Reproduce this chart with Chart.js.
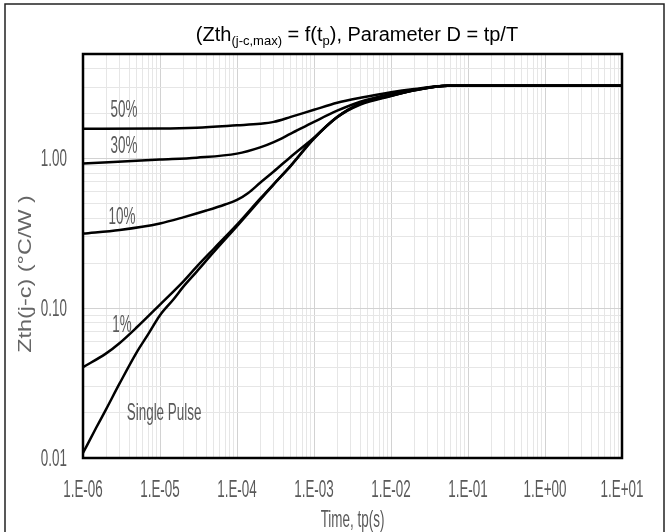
<!DOCTYPE html>
<html>
<head>
<meta charset="utf-8">
<script src="https://cdn.jsdelivr.net/npm/chart.js@4.4.1/dist/chart.umd.min.js"></script>
<style>
  html, body { margin: 0; padding: 0; background: #fff; }
  #wrap { width: 671px; height: 532px; }
</style>
</head>
<body>
<div id="wrap"><canvas id="zth"></canvas></div>
<script>
// [tp (s), Zth(j-c) (°C/W)]
const duty50 = [[1e-6, 1.585], [1e-5, 1.59], [3e-5, 1.61], [1e-4, 1.67], [2e-4, 1.71], [3e-4, 1.76], [5e-4, 1.9],
  [1e-3, 2.12], [2e-3, 2.36], [4e-3, 2.55], [1e-2, 2.78], [2e-2, 2.92], [5.4e-2, 3.07], [10, 3.07]];
const duty30 = [[1e-6, 0.926], [1e-5, 0.985], [3e-5, 1.015], [1e-4, 1.08], [2e-4, 1.19], [3e-4, 1.29], [5e-4, 1.47],
  [1e-3, 1.76], [2e-3, 2.09], [4e-3, 2.4], [1e-2, 2.7], [2e-2, 2.88], [5.4e-2, 3.07], [10, 3.07]];
const duty10 = [[1e-6, 0.316], [3e-6, 0.334], [1e-5, 0.369], [2e-5, 0.405], [4e-5, 0.45], [7e-5, 0.494],
  [1e-4, 0.53], [1.4e-4, 0.59], [2e-4, 0.69], [3e-4, 0.82], [5e-4, 1.03], [1e-3, 1.38], [2e-3, 1.9],
  [4e-3, 2.34], [1e-2, 2.64], [2e-2, 2.86], [5.4e-2, 3.07], [10, 3.07]];
const duty1 = [[1e-6, 0.0404], [2e-6, 0.05], [3e-6, 0.0587], [5e-6, 0.0747], [1e-5, 0.106], [2e-5, 0.151],
  [3e-5, 0.19], [5e-5, 0.25], [1e-4, 0.362], [2e-4, 0.54], [5e-4, 0.9], [1e-3, 1.37], [2e-3, 1.9],
  [4e-3, 2.32], [1e-2, 2.63], [2e-2, 2.86], [5.4e-2, 3.07], [10, 3.07]];
const singlePulse = [[1e-6, 0.0108], [1.5e-6, 0.0161], [2e-6, 0.0212], [3e-6, 0.0316], [5e-6, 0.051], [7e-6, 0.067],
  [1e-5, 0.09], [1.5e-5, 0.115], [2e-5, 0.139], [3e-5, 0.176], [5e-5, 0.238], [1e-4, 0.354], [2e-4, 0.531],
  [3e-4, 0.673], [5e-4, 0.895], [1e-3, 1.36], [2e-3, 1.89], [4e-3, 2.3], [1e-2, 2.62], [2e-2, 2.86],
  [5.4e-2, 3.07], [10, 3.07]];

const curveNames = ["50%", "30%", "10%", "1%", "Single Pulse"];
// where each name is written, in data units [tp, Zth]
const nameSpots = [[3.4e-6, 2.09], [3.4e-6, 1.2], [3.2e-6, 0.405], [3.2e-6, 0.077], [1.13e-5, 0.02]];

const xTickValues = [1e-6, 1e-5, 1e-4, 1e-3, 1e-2, 1e-1, 1, 10];
const xTickLabels = ["1.E-06", "1.E-05", "1.E-04", "1.E-03", "1.E-02", "1.E-01", "1.E+00", "1.E+01"];
const yTickValues = [0.01, 0.1, 1];
const yTickLabels = ["0.01", "0.10", "1.00"];
const xTitle = "Time, tp(s)";
const yTitle = "Zth(j-c) (\u00b0C/W )";
const xMin = 1e-6, xMax = 10, yMin = 0.01, yMax = 5;

const labelFont = '24px "Liberation Sans", Arial, sans-serif';
const textGrey = "#5a5a5a";
const squeeze = 0.56;   // the sheet's lettering is very condensed

function isDecade(v) {
    const l = Math.log10(v);
    return Math.abs(l - Math.round(l)) < 1e-9;
}

// 1..9 in every decade
function logTicks(min, max) {
    const out = [];
    for (let e = Math.floor(Math.log10(min)); e <= Math.ceil(Math.log10(max)); e++) {
        for (let m = 1; m <= 9; m++) {
            const v = Number((m * Math.pow(10, e)).toPrecision(6));
            if (v >= min * 0.999 && v <= max * 1.001) out.push(v);
        }
    }
    return out;
}

// condensed text, drawn at (x, y)
function narrowText(ctx, text, x, y, align, baseline) {
    ctx.save();
    ctx.translate(x, y);
    ctx.scale(squeeze, 1);
    ctx.textAlign = align;
    ctx.textBaseline = baseline;
    ctx.fillText(text, 0, 0);
    ctx.restore();
}

const gridColor = c => (c.tick && isDecade(c.tick.value)) ? "#d2d2d2" : "#e6e6e6";

const decorations = {
    id: "decorations",
    afterDraw(chart) {
        const ctx = chart.ctx;
        const area = chart.chartArea;
        const xs = chart.scales.x, ys = chart.scales.y;

        ctx.save();
        ctx.fillStyle = textGrey;
        ctx.font = labelFont;

        // tick labels
        xTickValues.forEach((v, i) => narrowText(ctx, xTickLabels[i], xs.getPixelForValue(v), area.bottom + 39, "center", "alphabetic"));
        yTickValues.forEach((v, i) => narrowText(ctx, yTickLabels[i], area.left - 16, ys.getPixelForValue(v) + 1, "right", "middle"));

        // axis titles
        narrowText(ctx, xTitle, (area.left + area.right) / 2, area.bottom + 69, "center", "alphabetic");
        ctx.save();
        ctx.fillStyle = "#666";
        ctx.translate(26, (area.top + area.bottom) / 2 + 18);
        ctx.rotate(-Math.PI / 2);
        ctx.scale(1.3, 1);
        ctx.font = '18px "Liberation Sans", Arial, sans-serif';
        ctx.textAlign = "center";
        ctx.textBaseline = "middle";
        ctx.fillText(yTitle, 0, 0);
        ctx.restore();

        // curve names
        curveNames.forEach((name, i) => {
            narrowText(ctx, name, xs.getPixelForValue(nameSpots[i][0]), ys.getPixelForValue(nameSpots[i][1]), "center", "middle");
        });
        ctx.restore();

        // plot frame
        ctx.save();
        ctx.strokeStyle = "#000";
        ctx.lineWidth = 2.5;
        ctx.strokeRect(area.left, area.top, area.right - area.left, area.bottom - area.top);
        ctx.restore();

        // outer box
        ctx.save();
        ctx.strokeStyle = "#222";
        ctx.lineWidth = 1.5;
        ctx.strokeRect(5, 4, 659, 560);
        ctx.restore();

        // title with subscripts
        const parts = [["(Zth", 20, 0], ["(j-c,max)", 13, 4], [" = f(t", 20, 0], ["p", 13, 4], ["), Parameter D = tp/T", 20, 0]];
        ctx.save();
        ctx.fillStyle = "#000";
        ctx.textBaseline = "alphabetic";
        let total = 0;
        parts.forEach(p => {
            ctx.font = p[1] + 'px "Liberation Sans", Arial, sans-serif';
            total += ctx.measureText(p[0]).width;
        });
        let x = 357 - total / 2;
        parts.forEach(p => {
            ctx.font = p[1] + 'px "Liberation Sans", Arial, sans-serif';
            ctx.fillText(p[0], x, 41 + p[2]);
            x += ctx.measureText(p[0]).width;
        });
        ctx.restore();
    }
};

const toXY = arr => arr.map(([t, z]) => ({ x: t, y: z }));
const lineStyle = {
    borderColor: "#000",
    borderWidth: 2.5,
    pointRadius: 0,
    fill: false,
    cubicInterpolationMode: "monotone"
};

new Chart(document.getElementById("zth"), {
    type: "line",
    data: {
        datasets: [
            { label: curveNames[0], data: toXY(duty50), ...lineStyle },
            { label: curveNames[1], data: toXY(duty30), ...lineStyle },
            { label: curveNames[2], data: toXY(duty10), ...lineStyle },
            { label: curveNames[3], data: toXY(duty1), ...lineStyle },
            { label: curveNames[4], data: toXY(singlePulse), ...lineStyle }
        ]
    },
    options: {
        responsive: true,
        maintainAspectRatio: false,
        animation: false,
        layout: { padding: { left: 0, right: 49, top: 54, bottom: 0 } },
        plugins: {
            legend: { display: false },
            tooltip: { enabled: false },
            title: { display: false }
        },
        scales: {
            x: {
                type: "logarithmic",
                min: xMin,
                max: xMax,
                afterBuildTicks: s => { s.ticks = logTicks(xMin, xMax).map(v => ({ value: v })); },
                afterFit: s => { s.height = 74; },
                grid: { color: gridColor, lineWidth: 1, drawTicks: false },
                border: { display: false },
                ticks: { display: false }
            },
            y: {
                type: "logarithmic",
                min: yMin,
                max: yMax,
                afterBuildTicks: s => { s.ticks = logTicks(yMin, yMax).map(v => ({ value: v })); },
                afterFit: s => { s.width = 83; },
                grid: { color: gridColor, lineWidth: 1, drawTicks: false },
                border: { display: false },
                ticks: { display: false }
            }
        }
    },
    plugins: [decorations]
});
</script>
</body>
</html>
